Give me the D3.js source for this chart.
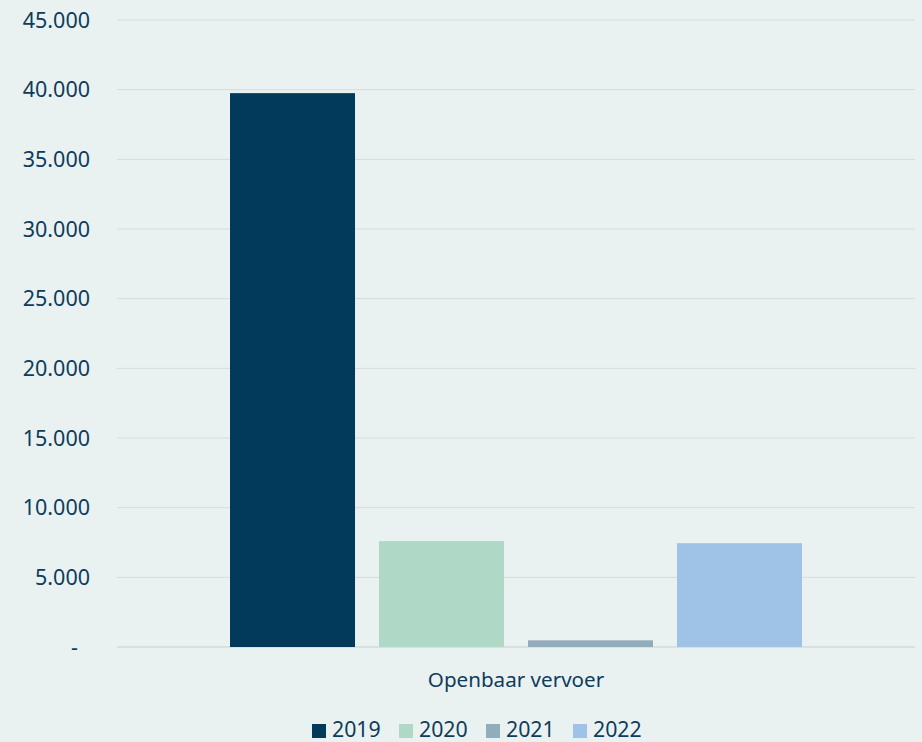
<!DOCTYPE html>
<html>
<head>
<meta charset="utf-8">
<script src="https://cdn.jsdelivr.net/npm/d3@7"></script>
<style>
  body { margin: 0; background: #eaf2f1; }
  svg { display: block; }
</style>
</head>
<body>
<script>
let width = 922
let height = 742

let categories = ["Openbaar vervoer"]
let years = ["2019", "2020", "2021", "2022"]
let values = [39750, 7600, 480, 7450]
let tickValues = [0, 5000, 10000, 15000, 20000, 25000, 30000, 35000, 40000, 45000]
let colors = ["#023a5c", "#afd9c6", "#91adbb", "#9fc3e6"]

let textColor = "#0e3c5c"
let font = "'Noto Sans', sans-serif"

let margin = {top: 20, right: 7, bottom: 95, left: 117}

let svg = d3.select("body")
  .append("svg")
  .attr("width", width)
  .attr("height", height)
  .style("background", "#eaf2f1")

let y = d3.scaleLinear()
  .domain([0, 45000])
  .range([height - margin.bottom, margin.top])

let x0 = d3.scaleBand()
  .domain(categories)
  .range([margin.left, width - margin.right])
  .paddingInner(0)
  .paddingOuter(0.1695)

let x1 = d3.scaleBand()
  .domain(years)
  .range([0, x0.bandwidth()])
  .paddingInner(0.161)
  .paddingOuter(0.0805)

let fmt = v => v === 0 ? "-" : d3.format(",")(v).replace(/,/g, ".")

// gridlines
svg.append("g")
  .selectAll("line")
  .data(tickValues)
  .join("line")
  .attr("x1", margin.left)
  .attr("x2", width - margin.right)
  .attr("y1", d => y(d))
  .attr("y2", d => y(d))
  .attr("stroke", "#d9d9d9")
  .attr("stroke-width", d => d === 0 ? 1.5 : 1)

// y labels
svg.append("g")
  .selectAll("text")
  .data(tickValues)
  .join("text")
  .attr("x", d => d === 0 ? 78 : 90)
  .attr("y", d => y(d))
  .attr("dy", "0.36em")
  .attr("text-anchor", "end")
  .style("font-family", font)
  .style("font-size", "21.5px")
  .style("fill", textColor)
  .text(fmt)

// bars
let group = svg.append("g")
  .attr("transform", `translate(${x0(categories[0])},0)`)

group.selectAll("rect")
  .data(values)
  .join("rect")
  .attr("x", (d, i) => x1(years[i]))
  .attr("width", x1.bandwidth())
  .attr("y", d => y(d))
  .attr("height", d => y(0) - y(d))
  .attr("fill", (d, i) => colors[i])

// category label
svg.append("text")
  .attr("x", x0(categories[0]) + x0.bandwidth() / 2)
  .attr("y", 687)
  .attr("text-anchor", "middle")
  .style("font-family", font)
  .style("font-size", "20.6px")
  .style("fill", textColor)
  .text(categories[0])

// legend
let legend = svg.append("g")
  .selectAll("g")
  .data(years)
  .join("g")
  .attr("transform", (d, i) => `translate(${312 + i * 87},724)`)

legend.append("rect")
  .attr("width", 14)
  .attr("height", 14)
  .attr("fill", (d, i) => colors[i])

legend.append("text")
  .attr("x", 20)
  .attr("y", 13)
  .style("font-family", font)
  .style("font-size", "21.3px")
  .style("fill", textColor)
  .text(d => d)
</script>
</body>
</html>
